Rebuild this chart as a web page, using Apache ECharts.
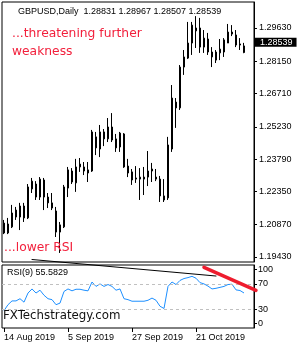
<!DOCTYPE html>
<html>
<head>
<meta charset="utf-8">
<script src="https://cdn.jsdelivr.net/npm/echarts@6/dist/echarts.min.js"></script>
<style>
  html, body { margin: 0; padding: 0; background: #fff; }
  #chart { width: 300px; height: 350px; }
</style>
</head>
<body>
<div id="chart"></div>
<script>
const dates = [
  '14 Aug 2019', '15 Aug 2019', '16 Aug 2019', '19 Aug 2019', '20 Aug 2019', '21 Aug 2019', '22 Aug 2019',
  '23 Aug 2019', '26 Aug 2019', '27 Aug 2019', '28 Aug 2019', '29 Aug 2019', '30 Aug 2019', '2 Sep 2019',
  '3 Sep 2019', '4 Sep 2019', '5 Sep 2019', '6 Sep 2019', '9 Sep 2019', '10 Sep 2019', '11 Sep 2019',
  '12 Sep 2019', '13 Sep 2019', '16 Sep 2019', '17 Sep 2019', '18 Sep 2019', '19 Sep 2019', '20 Sep 2019',
  '23 Sep 2019', '24 Sep 2019', '25 Sep 2019', '26 Sep 2019', '27 Sep 2019', '30 Sep 2019', '1 Oct 2019',
  '2 Oct 2019', '3 Oct 2019', '4 Oct 2019', '7 Oct 2019', '8 Oct 2019', '9 Oct 2019', '10 Oct 2019',
  '11 Oct 2019', '14 Oct 2019', '15 Oct 2019', '16 Oct 2019', '17 Oct 2019', '18 Oct 2019', '21 Oct 2019',
  '22 Oct 2019', '23 Oct 2019', '24 Oct 2019', '25 Oct 2019', '28 Oct 2019', '29 Oct 2019', '30 Oct 2019',
  '31 Oct 2019', '1 Nov 2019', '4 Nov 2019', '5 Nov 2019', '6 Nov 2019'
];

// open, close, low, high
const candles = [
  [1.2094, 1.2050, 1.2045, 1.2108], [1.2050, 1.2090, 1.2045, 1.2117], [1.2077, 1.2139, 1.2072, 1.2175],
  [1.2152, 1.2121, 1.2108, 1.2166], [1.2121, 1.2170, 1.2063, 1.2184], [1.2170, 1.2117, 1.2099, 1.2184],
  [1.2117, 1.2255, 1.2112, 1.2268], [1.2246, 1.2281, 1.2228, 1.2295], [1.2268, 1.2210, 1.2197, 1.2281],
  [1.2210, 1.2290, 1.2197, 1.2299], [1.2286, 1.2210, 1.2152, 1.2295], [1.2210, 1.2184, 1.2161, 1.2228],
  [1.2184, 1.2161, 1.2152, 1.2228], [1.2148, 1.2054, 1.2032, 1.2166], [1.2054, 1.2086, 1.1961, 1.2099],
  [1.2077, 1.2255, 1.2072, 1.2264], [1.2250, 1.2331, 1.2210, 1.2344], [1.2326, 1.2277, 1.2268, 1.2339],
  [1.2273, 1.2344, 1.2233, 1.2380], [1.2344, 1.2357, 1.2322, 1.2384], [1.2344, 1.2326, 1.2308, 1.2366],
  [1.2317, 1.2331, 1.2277, 1.2366], [1.2326, 1.2500, 1.2322, 1.2509], [1.2478, 1.2429, 1.2397, 1.2500],
  [1.2424, 1.2500, 1.2388, 1.2531], [1.2500, 1.2469, 1.2437, 1.2513], [1.2469, 1.2522, 1.2455, 1.2562],
  [1.2522, 1.2464, 1.2455, 1.2584], [1.2469, 1.2429, 1.2411, 1.2491], [1.2433, 1.2495, 1.2411, 1.2500],
  [1.2491, 1.2344, 1.2340, 1.2495], [1.2348, 1.2317, 1.2299, 1.2380], [1.2322, 1.2286, 1.2264, 1.2335],
  [1.2295, 1.2290, 1.2273, 1.2348], [1.2290, 1.2299, 1.2197, 1.2339], [1.2299, 1.2290, 1.2219, 1.2344],
  [1.2299, 1.2326, 1.2259, 1.2415], [1.2335, 1.2326, 1.2277, 1.2362], [1.2299, 1.2290, 1.2281, 1.2335],
  [1.2290, 1.2215, 1.2188, 1.2304], [1.2215, 1.2197, 1.2188, 1.2290], [1.2206, 1.2442, 1.2197, 1.2478],
  [1.2424, 1.2651, 1.2411, 1.2709], [1.2633, 1.2607, 1.2518, 1.2651], [1.2607, 1.2789, 1.2598, 1.2798],
  [1.2789, 1.2834, 1.2754, 1.2865], [1.2829, 1.2896, 1.2825, 1.2990], [1.2896, 1.2976, 1.2843, 1.2990],
  [1.2950, 1.2963, 1.2874, 1.3016], [1.2963, 1.2878, 1.2852, 1.3008], [1.2878, 1.2918, 1.2852, 1.2954],
  [1.2914, 1.2856, 1.2843, 1.2941], [1.2856, 1.2834, 1.2789, 1.2878], [1.2820, 1.2856, 1.2807, 1.2865],
  [1.2852, 1.2869, 1.2820, 1.2914], [1.2856, 1.2910, 1.2834, 1.2918], [1.2896, 1.2945, 1.2896, 1.2981],
  [1.2945, 1.2936, 1.2927, 1.2976], [1.2932, 1.2887, 1.2878, 1.2954], [1.2892, 1.2887, 1.2865, 1.2918],
  [1.28831, 1.28539, 1.28507, 1.28967]
];

const rsi = [
  27.5, 37, 43, 43, 46.5, 41, 55.5, 62, 55.5, 60, 52, 46.5, 45, 37, 39.5, 58, 62, 59, 61.5, 61.5,
  60, 59, 73, 66, 70, 66, 69, 66, 60, 62, 46.5, 45, 42.5, 42.5, 42.5, 42.5, 44, 47.5, 44, 34.5,
  31, 66, 73, 69, 75.5, 78.5, 80, 82, 79, 72, 70, 66.5, 62, 63, 64.5, 66, 69, 69.5, 60.5, 59.5,
  55.5829
];

const priceTicks = [1.29630, 1.28150, 1.26710, 1.25230, 1.23790, 1.22350, 1.20870, 1.19430];
const rsiTickPos = [93, 70, 30, 7];
const rsiTickText = ['100', '70', '30', '0'];
const rsiLevels = [70, 30];
const dateLabelIdx = [0, 16, 32, 48];
// trend lines drawn on the RSI pane, [index, rsi value]
const blackTrend = [[7.25, 108.7], [53.25, 82.5]];
const redTrend = [[50.25, 96.3], [63, 59.8]];

const smallFont = '"Liberation Sans", Arial, sans-serif';
const noteFont = '"DejaVu Sans", Verdana, sans-serif';
const red = '#f2203c';
const cats = dates.concat(['', '']);
const last = candles[candles.length - 1];
const showDate = (i) => dateLabelIdx.includes(i);

const chart = echarts.init(document.getElementById('chart'));

const option = {
  animation: false,
  backgroundColor: '#fff',
  grid: [
    { left: 2, top: 2, width: 252, height: 260, show: true, borderColor: '#000', borderWidth: 1, backgroundColor: '#fff' },
    { left: 2, top: 265, width: 252, height: 63, show: true, borderColor: '#000', borderWidth: 1, backgroundColor: '#fff' }
  ],
  xAxis: [
    { type: 'category', gridIndex: 0, data: cats, show: false },
    {
      type: 'category', gridIndex: 1, data: cats,
      axisLine: { show: false },
      axisTick: { show: true, alignWithLabel: true, length: 4, interval: showDate, lineStyle: { color: '#000' } },
      axisLabel: { interval: showDate, align: 'left', margin: 5, fontFamily: smallFont, fontSize: 9, color: '#000' }
    }
  ],
  yAxis: [
    {
      type: 'value', gridIndex: 0, position: 'right', min: 1.19207, max: 1.30788, scale: true,
      splitLine: { show: false },
      axisLine: { show: true, lineStyle: { color: '#000' } },
      axisTick: { show: true, customValues: priceTicks, length: 3, lineStyle: { color: '#000' } },
      axisLabel: { customValues: priceTicks, formatter: (v) => v.toFixed(5), margin: 5, fontFamily: smallFont, fontSize: 9, color: '#000' }
    },
    {
      type: 'value', gridIndex: 1, position: 'right', min: 0, max: 100,
      splitLine: { show: false },
      axisLine: { show: true, lineStyle: { color: '#000' } },
      axisTick: { show: true, customValues: rsiTickPos, length: 3, lineStyle: { color: '#000' } },
      axisLabel: {
        customValues: rsiTickPos,
        formatter: (v) => rsiTickText[rsiTickPos.indexOf(v)],
        margin: 4, fontFamily: smallFont, fontSize: 9, color: '#000'
      }
    }
  ],
  series: [
    {
      type: 'candlestick', xAxisIndex: 0, yAxisIndex: 0,
      data: candles, barWidth: 2,
      itemStyle: { color: '#fff', color0: '#000', borderColor: '#000', borderColor0: '#000', borderWidth: 1 },
      markLine: {
        silent: true, symbol: 'none',
        lineStyle: { color: 'transparent', width: 0 },
        label: {
          show: true, position: 'end', distance: 1, formatter: () => last[1].toFixed(5),
          backgroundColor: '#000', color: '#fff', padding: [0, 4, 0, 5], lineHeight: 9,
          fontFamily: smallFont, fontSize: 9
        },
        data: [{ yAxis: last[1] }]
      }
    },
    {
      type: 'line', xAxisIndex: 1, yAxisIndex: 1,
      data: rsi, symbol: 'none',
      lineStyle: { color: '#1e90ff', width: 1 },
      markLine: {
        silent: true, symbol: 'none',
        label: { show: false },
        lineStyle: { color: '#c0c0c0', type: [3, 3], width: 1 },
        data: rsiLevels.map((v) => ({ yAxis: v }))
      }
    }
  ],
  graphic: [
    { id: 'title', type: 'text', z: 100, x: 18, y: 12,
      style: { text: 'GBPUSD,Daily  ' + [last[0], last[3], last[2], last[1]].map((v) => v.toFixed(5)).join(' '),
        fill: '#000', font: '9px ' + smallFont, verticalAlign: 'middle' } },
    { id: 'note1', type: 'text', z: 100, x: 12, y: 34,
      style: { text: '...threatening further', fill: red, font: '12.3px ' + noteFont, verticalAlign: 'middle' } },
    { id: 'note2', type: 'text', z: 100, x: 12, y: 52,
      style: { text: 'weakness', fill: red, font: '12.3px ' + noteFont, verticalAlign: 'middle' } },
    { id: 'note3', type: 'text', z: 100, x: 4, y: 247.5,
      style: { text: '...lower RSI', fill: red, font: '12.3px ' + noteFont, verticalAlign: 'middle' } },
    { id: 'rsiTitle', type: 'text', z: 100, x: 7, y: 273,
      style: { text: 'RSI(9) ' + rsi[rsi.length - 1].toFixed(4), fill: '#000', font: '9px ' + smallFont, verticalAlign: 'middle' } },
    { id: 'site', type: 'text', z: 100, x: 3, y: 316,
      style: { text: 'FXTechstrategy.com', fill: '#111', font: '11.8px ' + noteFont, verticalAlign: 'middle' } }
  ]
};

chart.setOption(option);

const toPx = (p) => chart.convertToPixel({ xAxisIndex: 1, yAxisIndex: 1 }, p);
const lineEl = (id, pts, color, width) => {
  const a = toPx(pts[0]);
  const b = toPx(pts[1]);
  return { id: id, type: 'line', z: 90, shape: { x1: a[0], y1: a[1], x2: b[0], y2: b[1] },
    style: { stroke: color, lineWidth: width, lineCap: 'round' } };
};
chart.setOption({
  graphic: [
    lineEl('blackTrend', blackTrend, '#000', 1),
    lineEl('redTrend', redTrend, '#ee1c2e', 3.5)
  ]
});
</script>
</body>
</html>
